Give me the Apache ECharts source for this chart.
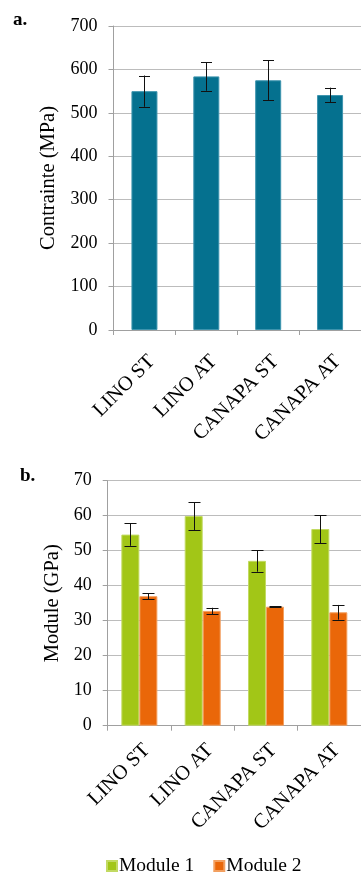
<!DOCTYPE html>
<html><head><meta charset="utf-8">
<script src="https://cdn.jsdelivr.net/npm/echarts@6/dist/echarts.min.js"></script>
<style>html,body{margin:0;padding:0;background:#fff}#c{width:361px;height:873px}</style>
</head><body><div id="c"></div>
<script>
const categories = ['LINO ST', 'LINO AT', 'CANAPA ST', 'CANAPA AT'];
const contrainte = [550, 584, 575, 541];
const contrainteErr = [36, 33, 46, 17];
const module1 = [54.6, 59.9, 47.1, 56.2];
const module1Err = [3.2, 4.0, 3.1, 4.0];
const module2 = [37.0, 32.8, 34.0, 32.4];
const module2Err = [0.9, 0.9, 0.2, 2.1];
const axisTitleA = 'Contrainte (MPa)';
const axisTitleB = 'Module (GPa)';
const seriesNames = ['Module 1', 'Module 2'];

const FONT = '"Liberation Serif", "Times New Roman", serif';
const txt = { fontFamily: FONT, color: '#000', fontSize: 20 };

function errData(vals, errs) { return vals.map((v, i) => [i, v, errs[i]]); }
function errRender(offsetPx, capHalf) {
  return function (params, api) {
    const i = api.value(0), v = api.value(1), e = api.value(2);
    const t = api.coord([i, v + e]);
    const b = api.coord([i, v - e]);
    const x = Math.round(t[0] + offsetPx) + 0.5;
    const st = { stroke: '#111', lineWidth: 1 };
    return { type: 'group', children: [
      { type: 'line', shape: { x1: x, y1: t[1], x2: x, y2: b[1] }, style: st },
      { type: 'line', shape: { x1: x - capHalf, y1: Math.round(t[1]) + 0.5, x2: x + capHalf, y2: Math.round(t[1]) + 0.5 }, style: st },
      { type: 'line', shape: { x1: x - capHalf, y1: Math.round(b[1]) + 0.5, x2: x + capHalf, y2: Math.round(b[1]) + 0.5 }, style: st }
    ]};
  };
}

function xAxisFor(gridIndex, margin) {
  return {
    gridIndex: gridIndex, type: 'category', data: categories,
    axisLine: { lineStyle: { color: '#a0a0a0', width: 1 } },
    axisTick: { show: true, length: 5, lineStyle: { color: '#a0a0a0' } },
    axisLabel: Object.assign({ rotate: 45, margin: margin, interval: 0, align: 'right', verticalAlign: 'top' }, txt, { fontSize: 20.5 })
  };
}
const yAxisCommon = {
  type: 'value',
  axisLine: { show: true, lineStyle: { color: '#a0a0a0', width: 1 } },
  axisTick: { show: true, length: 5, lineStyle: { color: '#a0a0a0' } },
  splitLine: { lineStyle: { color: '#bcbcbc', width: 1 } },
  axisLabel: Object.assign({ margin: 16 }, txt, { fontSize: 18 }),
  nameLocation: 'middle', nameRotate: 90,
  nameTextStyle: Object.assign({}, txt, { fontSize: 20.5 })
};

const chart = echarts.init(document.getElementById('c'), null, { renderer: 'canvas' });
chart.setOption({
  animation: false,
  grid: [
    { left: 113.5, top: 26, width: 259, height: 304 },
    { left: 107.7, top: 480.7, width: 259, height: 245 }
  ],
  xAxis: [ xAxisFor(0, 21), xAxisFor(1, 14) ],
  yAxis: [
    Object.assign({ gridIndex: 0, min: 0, max: 700, interval: 100, name: axisTitleA, nameGap: 53 }, yAxisCommon),
    Object.assign({ gridIndex: 1, min: 0, max: 70, interval: 10, name: axisTitleB, nameGap: 41 }, yAxisCommon)
  ],
  legend: {
    data: seriesNames, left: 101, top: 851, itemWidth: 10, itemHeight: 10, itemGap: 19,
    icon: 'rect', textStyle: Object.assign({}, txt, { fontSize: 19.5, padding: [0, 0, 0, -3] })
  },
  graphic: [
    { type: 'text', left: 13, top: 11, style: { text: 'a.', font: 'bold 19px ' + FONT, fill: '#000' } },
    { type: 'text', left: 20, top: 467, style: { text: 'b.', font: 'bold 19px ' + FONT, fill: '#000' } }
  ],
  series: [
    { type: 'bar', name: 'Contrainte', xAxisIndex: 0, yAxisIndex: 0, data: contrainte, barWidth: 26,
      itemStyle: { color: '#05718f', borderColor: '#3d94ae', borderWidth: 1 } },
    { type: 'custom', xAxisIndex: 0, yAxisIndex: 0, data: errData(contrainte, contrainteErr),
      renderItem: errRender(0, 5.5), z: 5 },
    { type: 'bar', name: seriesNames[0], xAxisIndex: 1, yAxisIndex: 1, data: module1, barWidth: 18, barGap: '0%',
      itemStyle: { color: '#a2c617', borderColor: '#c2da62', borderWidth: 1 } },
    { type: 'bar', name: seriesNames[1], xAxisIndex: 1, yAxisIndex: 1, data: module2, barWidth: 18, barGap: '0%',
      itemStyle: { color: '#ea6709', borderColor: '#f3a060', borderWidth: 1 } },
    { type: 'custom', xAxisIndex: 1, yAxisIndex: 1, data: errData(module1, module1Err),
      renderItem: errRender(-9, 6), z: 5 },
    { type: 'custom', xAxisIndex: 1, yAxisIndex: 1, data: errData(module2, module2Err),
      renderItem: errRender(9, 6), z: 5 }
  ]
});
</script></body></html>
